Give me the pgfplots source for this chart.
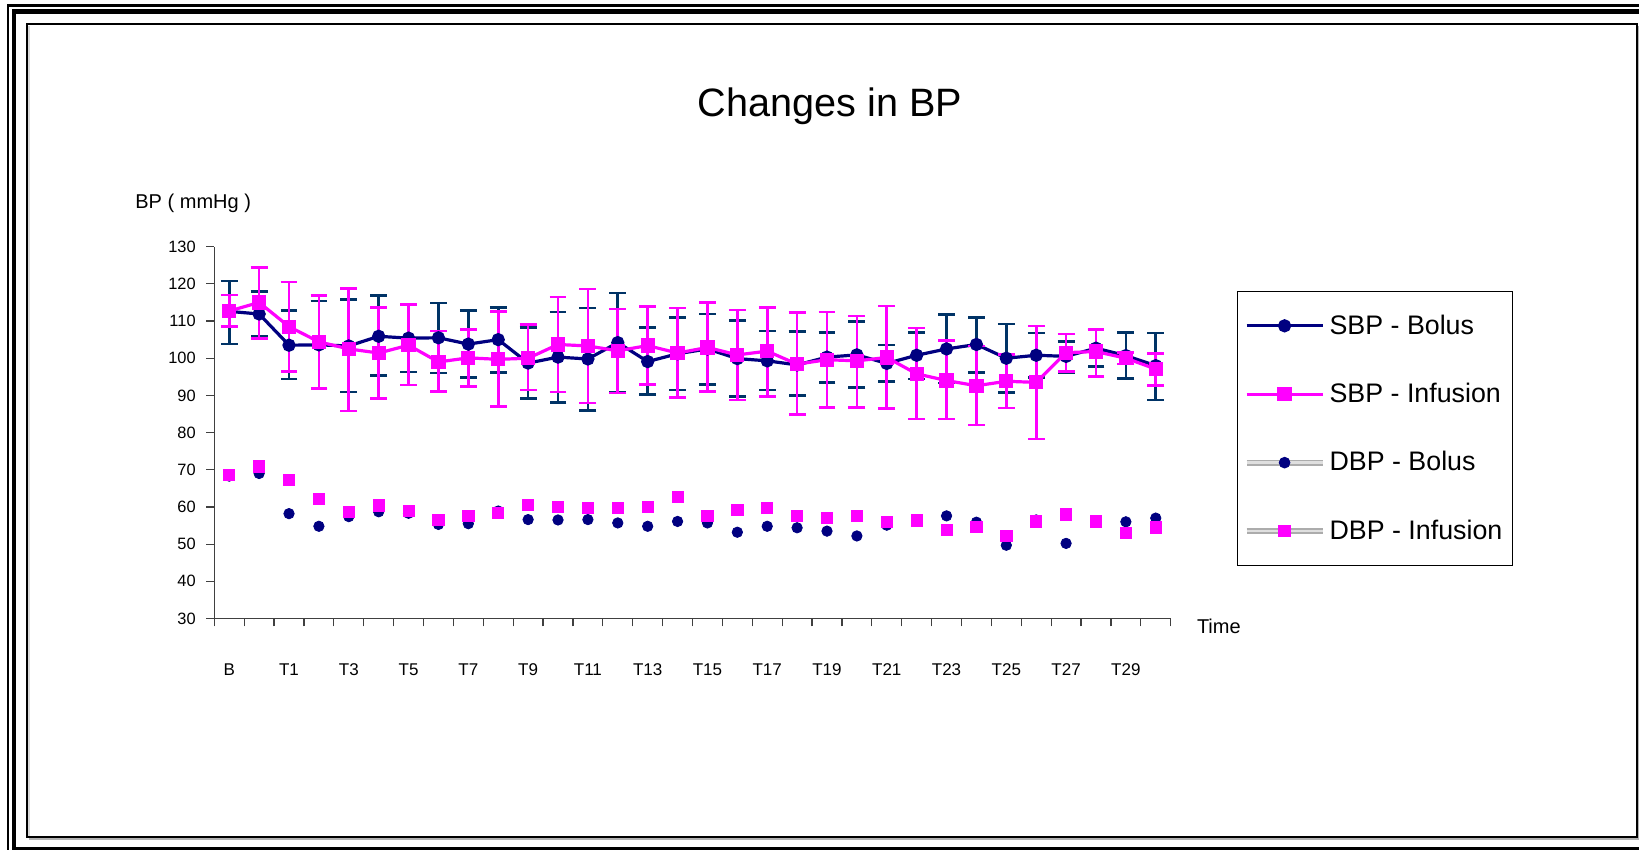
\documentclass[border=0pt]{standalone}
\usepackage{pgfplots}
\pgfplotsset{compat=1.18}
\usepackage{pgfplotstable}
\usepackage{fontspec}
\setmainfont{Liberation Sans}

\definecolor{navy}{HTML}{000080}
\definecolor{navybar}{HTML}{003366}
\definecolor{magenta}{HTML}{FF00FF}

% i = time point (0 = B, 1 = T0, 2 = T1, ...), m = mean, hi/lo = ends of the error bar
\pgfplotstableread{
i  m     hi    lo
0  112.6 120.8 103.8
1  111.9 117.9 105.8
2  103.5 112.8 94.4
3  103.6 115.4 92.0
4  103.3 115.8 90.9
5  105.9 116.8 95.3
6  105.4 114.5 96.3
7  105.5 114.9 96.0
8  103.8 112.9 94.8
9  105.0 113.6 96.2
10 98.7  108.3 89.1
11 100.3 112.4 88.1
12 99.8  113.5 85.9
13 104.2 117.5 90.8
14 99.1  108.3 90.3
15 101.2 110.9 91.5
16 102.5 111.9 93.0
17 99.9  110.2 89.7
18 99.3  107.3 91.5
19 98.2  107.2 89.9
20 100.3 107.0 93.5
21 100.9 109.8 92.2
22 98.6  103.6 93.7
23 100.8 107.0 94.4
24 102.5 111.8 93.3
25 103.7 111.0 96.2
26 100.0 109.2 90.8
27 100.8 106.8 94.8
28 100.5 104.5 96.0
29 102.7 107.6 97.8
30 100.7 107.0 94.6
31 98.0  106.8 88.8
}\sbpbolus

\pgfplotstableread{
i  m     hi    lo
0  112.7 117.0 108.5
1  115.0 124.4 105.3
2  108.5 120.5 96.5
3  104.4 116.9 91.8
4  102.5 118.7 85.8
5  101.4 113.7 89.1
6  103.5 114.4 92.8
7  99.0  107.3 91.1
8  100.1 107.8 92.4
9  99.7  112.5 87.0
10 100.0 109.0 91.5
11 103.7 116.5 90.9
12 103.3 118.6 88.0
13 102.0 113.2 90.6
14 103.4 113.9 92.9
15 101.4 113.5 89.5
16 102.9 115.0 91.1
17 100.9 113.0 88.8
18 101.9 113.7 89.7
19 98.4  112.3 84.9
20 99.6  112.4 86.8
21 99.3  111.4 86.8
22 100.2 114.1 86.5
23 95.8  108.1 83.7
24 94.0  104.8 83.7
25 92.6  103.3 82.0
26 93.8  101.0 86.6
27 93.5  108.7 78.3
28 101.5 106.5 96.4
29 101.8 107.8 95.1
30 100.0 101.5 98.5
31 97.1  101.2 92.7
}\sbpinfusion

\pgfplotstableread{
i  bolus infusion
0  68.3  68.6
1  69.0  70.9
2  58.2  67.2
3  54.8  62.1
4  57.4  58.7
5  58.7  60.4
6  58.3  59.0
7  55.3  56.6
8  55.5  57.7
9  58.9  58.3
10 56.6  60.5
11 56.5  60.0
12 56.6  59.7
13 55.7  59.7
14 54.8  60.1
15 56.1  62.6
16 55.7  57.5
17 53.2  59.2
18 54.8  59.7
19 54.4  57.7
20 53.5  57.1
21 52.2  57.5
22 55.1  55.9
23 56.5  56.4
24 57.6  53.9
25 55.9  54.6
26 49.7  52.3
27 56.5  56.1
28 50.2  58.0
29 56.1  56.1
30 56.0  53.0
31 57.0  54.5
}\dbp

\begin{document}
\begin{tikzpicture}
\useasboundingbox (0,0) rectangle (819.5pt,425pt);

% page frame
\draw[line width=1.3pt] (4pt,-5pt) -- (4pt,422.35pt) -- (830pt,422.35pt);
\draw[line width=2.15pt] (6.9pt,0.3pt) rectangle (840pt,419.2pt);
\draw[gray!60, line width=1.2pt] (14.5pt,5.5pt) -- (819.2pt,5.5pt) -- (819.2pt,412pt);
\draw[gray!30, line width=0.9pt] (14.4pt,7pt) -- (14.4pt,412.1pt);
\draw[line width=0.65pt] (13.5pt,6.5pt) rectangle (818.5pt,413pt);

\node[anchor=base, font=\fontsize{19.8}{22}\selectfont] at (415pt,366.65pt) {Changes in BP};
\node[anchor=base west, inner sep=0pt, font=\fontsize{10}{12}\selectfont] at (67.5pt,320.85pt) {BP ( mmHg )};
\node[anchor=base west, inner sep=0pt, font=\fontsize{10}{12}\selectfont] at (598.3pt,108pt) {Time};

\begin{axis}[
  at={(107.15pt,115.75pt)}, anchor=south west,
  scale only axis, width=478.2pt, height=185.9pt,
  xmin=-0.5, xmax=31.5, ymin=30, ymax=130,
  axis lines=left,
  axis line style={-, black!75, line width=0.6pt},
  tick align=outside, major tick length=4pt,
  tick style={black!75, line width=0.6pt},
  xtick={-0.5,0.5,...,31.5}, xticklabels={},
  extra x ticks={0,2,...,30},
  extra x tick labels={B,T1,T3,T5,T7,T9,T11,T13,T15,T17,T19,T21,T23,T25,T27,T29},
  extra x tick style={major tick length=0pt, xticklabel style={yshift=-19pt}},
  ytick={30,40,...,130},
  yticklabel style={xshift=-1.8pt, font=\fontsize{8.2}{9}\selectfont},
  xticklabel style={font=\fontsize{8.5}{10}\selectfont},
  /pgf/number format/assume math mode=true,
  clip=false,
  legend style={at={(1.0693,0.8808)}, anchor=north west, draw=black,
    line width=0.6pt, inner xsep=3pt, inner ysep=9.5pt, row sep=19pt,
    font=\fontsize{13.4}{15}\selectfont, nodes={inner sep=2pt}},
  legend cell align=left,
]

\addplot[navy, line width=1.6pt, mark=*, mark size=2.5pt,
  mark options={solid, fill=navy},
  legend image code/.code={\draw[mark repeat=2, mark phase=2] plot coordinates {(0pt,0pt) (19pt,0pt) (38pt,0pt)};},
  error bars/.cd, y dir=both, y explicit,
  error bar style={navybar, line width=1.3pt},
  error mark options={navybar, line width=1.3pt, mark size=4.2pt, rotate=90}]
  table[x=i, y=m, y error plus expr=\thisrow{hi}-\thisrow{m}, y error minus expr=\thisrow{m}-\thisrow{lo}] {\sbpbolus};
\addlegendentry{SBP - Bolus}

\addplot[magenta, line width=1.6pt, mark=square*, mark size=2.75pt,
  mark options={solid, fill=magenta},
  legend image code/.code={\draw[mark repeat=2, mark phase=2] plot coordinates {(0pt,0pt) (19pt,0pt) (38pt,0pt)};},
  error bars/.cd, y dir=both, y explicit,
  error bar style={magenta, line width=1.3pt},
  error mark options={magenta, line width=1.3pt, mark size=4.2pt, rotate=90}]
  table[x=i, y=m, y error plus expr=\thisrow{hi}-\thisrow{m}, y error minus expr=\thisrow{m}-\thisrow{lo}] {\sbpinfusion};
\addlegendentry{SBP - Infusion}

\addplot[navy, only marks, mark=*, mark size=2.6pt, mark options={fill=navy},
  legend image code/.code={
    \draw[gray!65, line width=3pt, mark=none] (0pt,0pt) -- (38pt,0pt);
    \draw[gray!25, line width=1.4pt, mark=none] (0pt,0pt) -- (38pt,0pt);
    \draw plot coordinates {(19pt,0pt)};}]
  table[x=i, y=bolus] {\dbp};
\addlegendentry{DBP - Bolus}

\addplot[magenta, only marks, mark=square*, mark size=2.8pt, mark options={fill=magenta},
  legend image code/.code={
    \draw[gray!65, line width=3pt, mark=none] (0pt,0pt) -- (38pt,0pt);
    \draw[gray!25, line width=1.4pt, mark=none] (0pt,0pt) -- (38pt,0pt);
    \draw plot coordinates {(19pt,0pt)};}]
  table[x=i, y=infusion] {\dbp};
\addlegendentry{DBP - Infusion}

\end{axis}
\end{tikzpicture}
\end{document}
